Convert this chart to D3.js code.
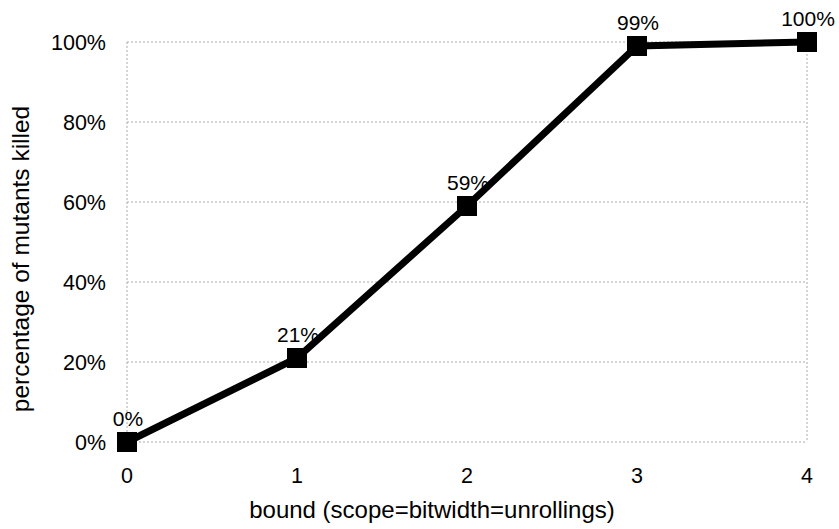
<!DOCTYPE html>
<html><head><meta charset="utf-8">
<script src="https://cdn.jsdelivr.net/npm/d3@7"></script>
<style>body{margin:0;background:#fff}svg{display:block}text{font-family:"Liberation Sans",Arial,sans-serif;fill:#000}</style>
</head><body>
<svg id="c" width="839" height="529"></svg>
<script>
const bounds = [0, 1, 2, 3, 4];
const killed = [0, 21, 59, 99, 100];
const yTicks = [0, 20, 40, 60, 80, 100];
const svg = d3.select("#c");
const x = d3.scaleLinear().domain([0, 4]).range([127, 807]);
const y = d3.scaleLinear().domain([0, 100]).range([442, 42]);
const g = svg.append("g");
const gridStyle = s => s.attr("stroke", "#aaa").attr("stroke-width", 1).attr("stroke-dasharray", "2,2");
g.selectAll(".grid").data(yTicks).enter().append("line")
  .attr("x1", x(0)).attr("x2", x(4)).attr("y1", d => y(d)).attr("y2", d => y(d)).call(gridStyle);
g.selectAll(".vb").data([0, 4]).enter().append("line")
  .attr("x1", d => x(d)).attr("x2", d => x(d)).attr("y1", y(100)).attr("y2", y(0)).call(gridStyle);
// y tick labels
g.selectAll(".yt").data(yTicks).enter().append("text")
  .attr("x", 106).attr("y", d => y(d) + 7.5).attr("text-anchor", "end")
  .attr("font-size", 21.5).text(d => d + "%");
// x tick labels
g.selectAll(".xt").data(bounds).enter().append("text")
  .attr("x", d => x(d)).attr("y", 483).attr("text-anchor", "middle")
  .attr("font-size", 21.5).text(d => d);
// titles
svg.append("text").attr("x", 432).attr("y", 518).attr("text-anchor", "middle")
  .attr("font-size", 24).text("bound (scope=bitwidth=unrollings)");
svg.append("text").attr("transform", "translate(29,259) rotate(-90)").attr("text-anchor", "middle")
  .attr("font-size", 24.5).text("percentage of mutants killed");
// line
const data = bounds.map((b, i) => ({b, v: killed[i]}));
g.append("path").datum(data)
  .attr("d", d3.line().x(d => x(d.b)).y(d => y(d.v)))
  .attr("fill", "none").attr("stroke", "#000").attr("stroke-width", 7);
g.selectAll(".m").data(data).enter().append("rect")
  .attr("x", d => x(d.b) - 10).attr("y", d => y(d.v) - 10)
  .attr("width", 20).attr("height", 20).attr("fill", "#000");
g.selectAll(".lbl").data(data).enter().append("text")
  .attr("x", d => x(d.b) + 1).attr("y", d => y(d.v) - 16).attr("text-anchor", "middle")
  .attr("font-size", 21).text(d => d.v + "%");
</script>
</body></html>
